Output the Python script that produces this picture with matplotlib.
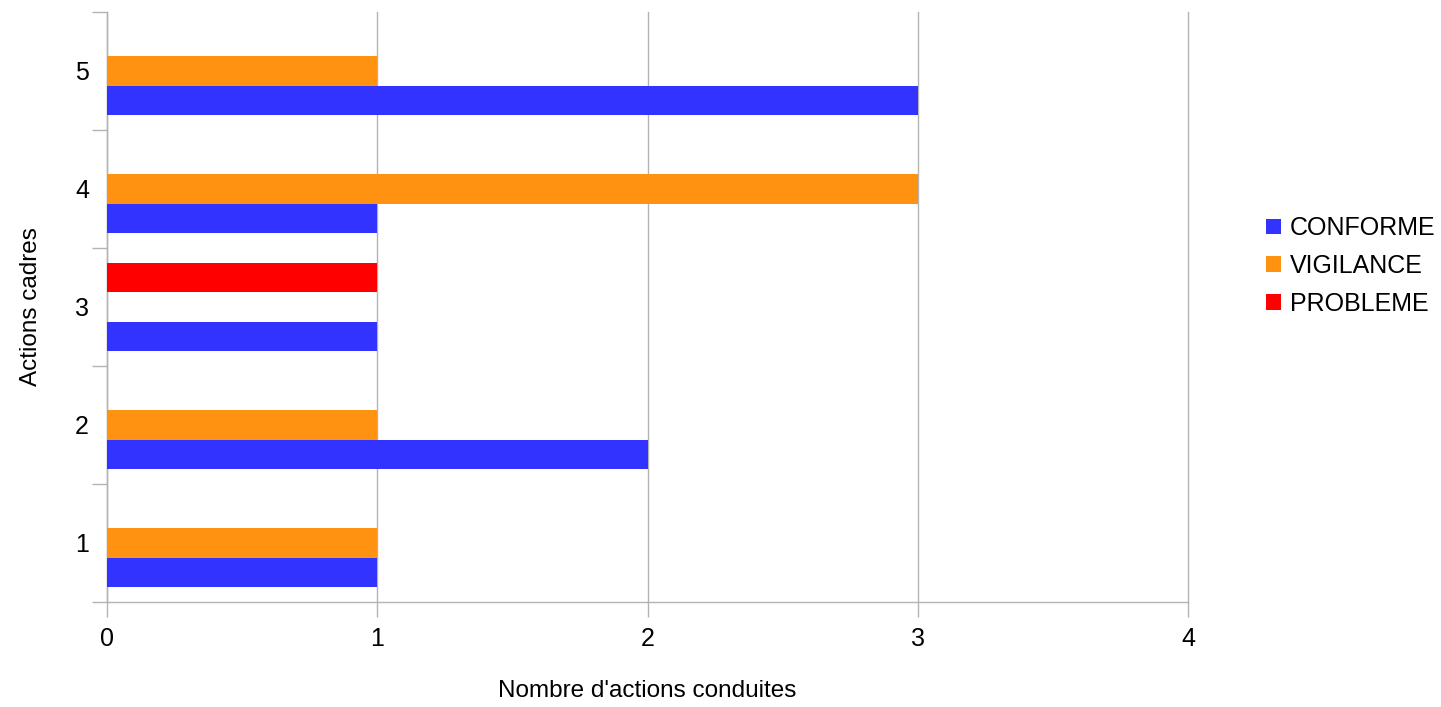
import numpy as np
import matplotlib.pyplot as plt
from matplotlib.patches import Patch

plt.rcParams['font.family'] = ['Liberation Sans', 'DejaVu Sans']

categories = ['1', '2', '3', '4', '5']
conforme = [1, 2, 1, 1, 3]
vigilance = [1, 1, 0, 3, 1]
probleme = [0, 0, 1, 0, 0]

series = [('CONFORME', conforme, '#3333ff'),
          ('VIGILANCE', vigilance, '#ff9211'),
          ('PROBLEME', probleme, '#ff0000')]

fig = plt.figure(figsize=(14.41, 7.07), dpi=100)
ax = fig.add_axes([107 / 1441, 1 - 602 / 707, (1188 - 107) / 1441, (602 - 12) / 707])

y = np.arange(len(categories))
h = 0.25
for i, (name, vals, col) in enumerate(series):
    ax.barh(y + (i - 1) * h, vals, height=h, color=col, zorder=3)

ax.set_xlim(0, 4)
ax.set_ylim(-0.5, len(categories) - 0.5)
ax.set_xticks(range(5))
ax.set_yticks(y)
ax.set_yticklabels(categories)
ax.set_yticks(np.arange(-0.5, len(categories)), minor=True)
ax.tick_params(axis='y', which='major', length=0, pad=13, labelsize=18)
ax.tick_params(axis='y', which='minor', length=11, color='#b3b3b3', width=1)
ax.tick_params(axis='x', length=11, color='#b3b3b3', width=1, pad=7, labelsize=18)
for xv in range(5):
    ax.axvline(xv, color='#b3b3b3', linewidth=1, zorder=0, clip_on=False)
for s in ['top', 'right']:
    ax.spines[s].set_visible(False)
for s in ['left', 'bottom']:
    ax.spines[s].set_color('#b3b3b3')
    ax.spines[s].set_linewidth(1)

ax.set_xlabel("Nombre d'actions conduites", fontsize=17.5, labelpad=21)
ax.set_ylabel('Actions cadres', fontsize=17.5, labelpad=24)

handles = [Patch(facecolor=c, label=n) for n, _, c in series]
fig.legend(handles=handles, loc='center left', bbox_to_anchor=(1266 / 1441, 1 - 266 / 707),
           frameon=False, fontsize=18, handlelength=0.6, handleheight=0.6,
           handletextpad=0.36, labelspacing=0.55, borderpad=0, borderaxespad=0)

fig.savefig('out.png', dpi=100)
